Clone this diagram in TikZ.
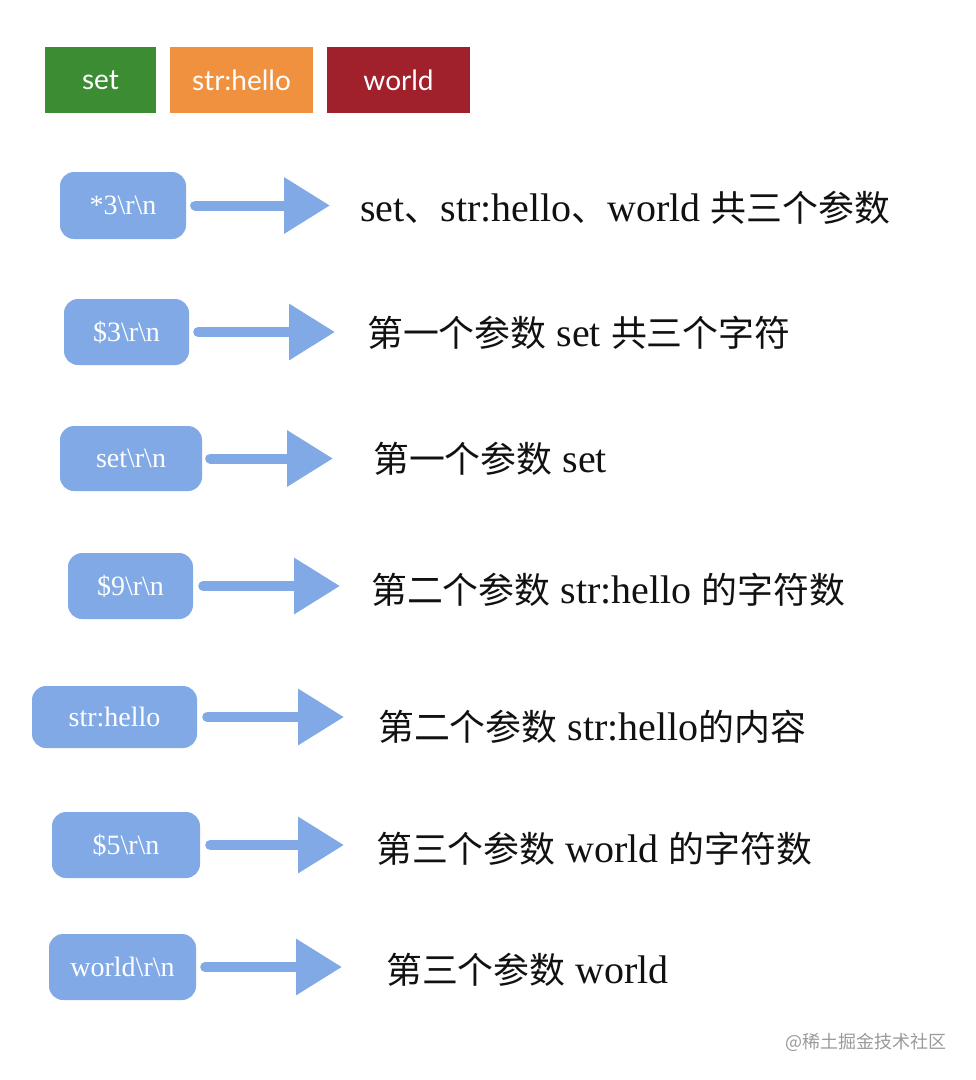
\documentclass[tikz,border=0pt]{standalone}
\usepackage{fontspec}
\usepackage{xcolor}
\usepackage{tikz}
\usetikzlibrary{arrows.meta,positioning}
\setmainfont{Liberation Serif}
\newfontfamily\zh{Noto Sans CJK SC}[Scale=0.97]
\newfontfamily\wm{Noto Sans CJK SC}
\newfontfamily\ui{Lato}
\newfontfamily\lat{Liberation Serif}[Scale=1.08]
\definecolor{SetG}{HTML}{3C8C34}
\definecolor{StrO}{HTML}{F0913F}
\definecolor{WldR}{HTML}{A0202C}
\definecolor{Blu}{HTML}{80A9E6}
\definecolor{Ink}{HTML}{111111}
\definecolor{Mute}{HTML}{9A9A9A}

\begin{document}
\begin{tikzpicture}[
  x=1pt, y=-1pt,
  tag/.style={minimum height=66pt, inner sep=0pt, text=white, font=\ui\fontsize{28}{32}\selectfont},
  blk/.style={fill=Blu, rounded corners=14pt, inner sep=0pt, text=white, font=\fontsize{28}{32}\selectfont},
  lbl/.style={anchor=west, inner sep=0pt, text=Ink, font=\lat\fontsize{37}{42}\selectfont},
  arr/.style={-{Triangle[length=46pt,width=54pt]}, line width=10pt, line cap=round, draw=Blu},
]
\useasboundingbox (0,0) rectangle (976,1080);
% legend
\node[tag, fill=SetG, minimum width=111pt] (k1) at (100.5,80) {set};
\node[tag, fill=StrO, minimum width=143pt] (k2) at (241.5,80) {str:hello};
\node[tag, fill=WldR, minimum width=143pt] (k3) at (398.5,80) {world};
% boxes
\node[blk, minimum width=126pt, minimum height=67pt] (b1) at (123,205.5) {*3\textbackslash r\textbackslash n};
\node[blk, minimum width=125pt, minimum height=66pt] (b2) at (126.5,332) {\$3\textbackslash r\textbackslash n};
\node[blk, minimum width=142pt, minimum height=65pt] (b3) at (131,458.5) {set\textbackslash r\textbackslash n};
\node[blk, minimum width=125pt, minimum height=66pt] (b4) at (130.5,586) {\$9\textbackslash r\textbackslash n};
\node[blk, minimum width=165pt, minimum height=62pt] (b5) at (114.5,717) {str:hello};
\node[blk, minimum width=148pt, minimum height=66pt] (b6) at (126,845) {\$5\textbackslash r\textbackslash n};
\node[blk, minimum width=147pt, minimum height=66pt] (b7) at (122.5,967) {world\textbackslash r\textbackslash n};
% labels
\node[lbl] (t1) at (360,208) {set{\zh 、}str:hello{\zh 、}world {\zh 共三个参数}};
\node[lbl] (t2) at (367,333) {{\zh 第一个参数} set {\zh 共三个字符}};
\node[lbl] (t3) at (373,459) {{\zh 第一个参数} set};
\node[lbl] (t4) at (371,590) {{\zh 第二个参数} str:hello {\zh 的字符数}};
\node[lbl] (t5) at (378,727) {{\zh 第二个参数} str:hello{\zh 的内容}};
\node[lbl] (t6) at (376,849) {{\zh 第三个参数} world {\zh 的字符数}};
\node[lbl] (t7) at (386,970) {{\zh 第三个参数} world};
\draw[arr, shorten <=9pt, shorten >=30pt] (b1.east) -- (b1.east -| t1.west);
\draw[arr, shorten <=9pt, shorten >=32pt] (b2.east) -- (b2.east -| t2.west);
\draw[arr, shorten <=8pt, shorten >=40pt] (b3.east) -- (b3.east -| t3.west);
\draw[arr, shorten <=10pt, shorten >=31pt] (b4.east) -- (b4.east -| t4.west);
\draw[arr, shorten <=10pt, shorten >=34pt] (b5.east) -- (b5.east -| t5.west);
\draw[arr, shorten <=10pt, shorten >=32pt] (b6.east) -- (b6.east -| t6.west);
\draw[arr, shorten <=9pt, shorten >=44pt] (b7.east) -- (b7.east -| t7.west);
% watermark
\node[text=Mute, font=\wm\fontsize{18}{22}\selectfont] (wm) at (866,1042) {@稀土掘金技术社区};
\end{tikzpicture}
\end{document}
